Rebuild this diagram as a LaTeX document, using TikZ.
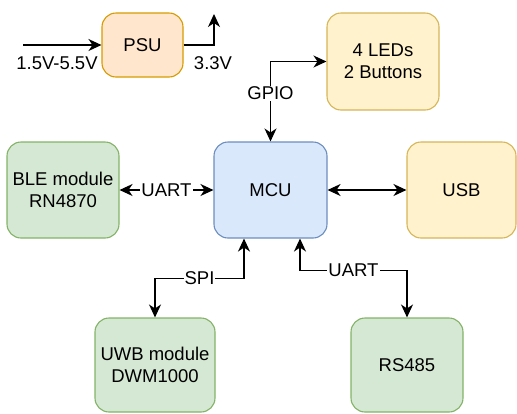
\documentclass[tikz,border=0pt]{standalone}
\usepackage{fontspec}
\setmainfont{Liberation Sans}
\usetikzlibrary{arrows.meta}
\definecolor{psufill}{HTML}{FFE6CC}\definecolor{psuline}{HTML}{D79B00}
\definecolor{ylwfill}{HTML}{FFF2CC}\definecolor{ylwline}{HTML}{D6B656}
\definecolor{blufill}{HTML}{DAE8FC}\definecolor{bluline}{HTML}{6C8EBF}
\definecolor{grnfill}{HTML}{D5E8D4}\definecolor{grnline}{HTML}{82B366}
\begin{document}
\begin{tikzpicture}[x=1pt, y=-1pt, font=\fontsize{18.5}{22}\selectfont,
  >={Stealth[length=13pt,width=12pt,inset=4pt]},
  blk/.style={draw, line width=1.1pt, rounded corners=14pt, align=center, inner sep=0pt},
  psubox/.style={blk, fill=psufill, draw=psuline},
  ylwbox/.style={blk, fill=ylwfill, draw=ylwline},
  blubox/.style={blk, fill=blufill, draw=bluline},
  grnbox/.style={blk, fill=grnfill, draw=grnline},
  link/.style={line width=1.2pt},
  lbl/.style={fill=white, inner sep=1pt}]
  \useasboundingbox (0,0) rectangle (517,413);
  % blocks
  \node[psubox, minimum width=81pt, minimum height=64pt] (psu) at (142.5,45) {PSU};
  \node[ylwbox, minimum width=112pt, minimum height=97pt] (leds) at (383,61.5) {4 LEDs\\2 Buttons};
  \node[blubox, minimum width=113pt, minimum height=96pt] (mcu) at (270.5,190) {MCU};
  \node[grnbox, minimum width=112pt, minimum height=96pt] (ble) at (63,190) {BLE module\\RN4870};
  \node[ylwbox, minimum width=109pt, minimum height=96pt] (usb) at (461.5,190) {USB};
  \node[grnbox, minimum width=120pt, minimum height=94pt] (uwb) at (155,365) {UWB module\\DWM1000};
  \node[grnbox, minimum width=112pt, minimum height=94pt] (rs) at (407,365) {RS485};
  % supply
  \coordinate (vin) at (23,45);
  \coordinate (vout) at (214,14);
  \draw[link, ->] (vin) -- (psu.west);
  \draw[link, ->] (psu.east) -| (vout);
  \node (vinlbl) at (57,63) {1.5V-5.5V};
  \node (voutlbl) at (213,63) {3.3V};
  % buses
  \draw[link, <->] (mcu.north) |- node[lbl, pos=0.3] {GPIO} (leds.west);
  \draw[link, <->] (ble) -- node[lbl] {UART} (mcu);
  \draw[link, <->] (mcu) -- (usb);
  \draw[link, <->] ([xshift=-26.5pt]mcu.south) -- ++(0,40) -| node[lbl, pos=0.25] {SPI} (uwb.north);
  \draw[link, <->] ([xshift=29.5pt]mcu.south) -- ++(0,32) -| node[lbl, pos=0.25] {UART} (rs.north);
\end{tikzpicture}
\end{document}
